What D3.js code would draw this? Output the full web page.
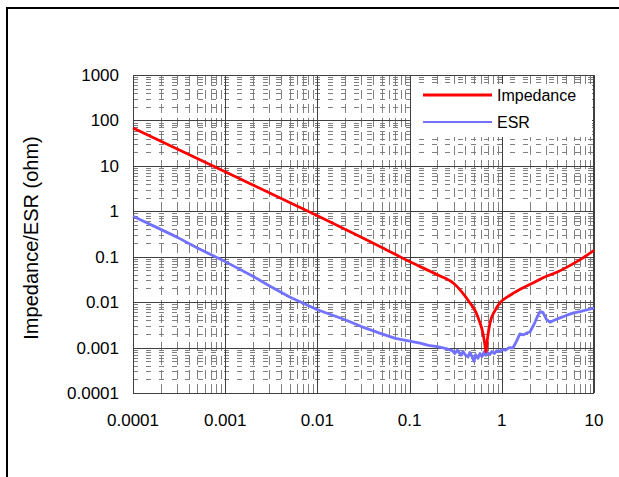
<!DOCTYPE html>
<html>
<head>
<meta charset="utf-8">
<script src="https://cdn.jsdelivr.net/npm/d3@7"></script>
<style>
  body { margin: 0; background: #fff; }
  svg { display: block; font-family: Arial, "Liberation Sans", sans-serif; }
</style>
</head>
<body>
<svg id="chart" width="619" height="477"></svg>
<script>
// tick labels
var xTickLabels = ['0.0001', '0.001', '0.01', '0.1', '1', '10'];
var yTickLabels = ['0.0001', '0.001', '0.01', '0.1', '1', '10', '100', '1000'];

// Impedance curve
var impFreq = [0.0001, 0.001, 0.01, 0.05, 0.1, 0.2, 0.3, 0.45, 0.52, 0.58, 0.62, 0.65, 0.675, 0.70, 0.745, 0.85, 0.955, 1.23, 1.6, 2.18, 2.8, 4, 5.1, 7, 10];
var impValue = [68, 7.4, 0.8, 0.16, 0.078, 0.04, 0.026, 0.0097, 0.0062, 0.0035, 0.0022, 0.0013, 0.0008, 0.0016, 0.0035, 0.0067, 0.0096, 0.0142, 0.0195, 0.0264, 0.0345, 0.046, 0.059, 0.085, 0.138];

// ESR curve (noisy part typed point by point)
var esrFreq = [0.0001, 0.0002, 0.0003, 0.0005, 0.001, 0.002, 0.003, 0.005, 0.01, 0.02, 0.03, 0.05, 0.07, 0.1, 0.13, 0.16, 0.2, 0.23, 0.26, 0.29, 0.31, 0.33, 0.36, 0.38, 0.40, 0.43, 0.45, 0.47, 0.50, 0.52, 0.55, 0.58, 0.61, 0.64, 0.67, 0.70, 0.74, 0.78, 0.83, 0.88, 0.95, 1.0, 1.1, 1.2, 1.32, 1.45, 1.57, 1.72, 1.87, 2.02, 2.15, 2.29, 2.45, 2.6, 2.8, 3.05, 3.33, 3.7, 4.28, 5, 6, 7.05, 8.5, 10];
var esrValue = [0.78, 0.40, 0.27, 0.155, 0.078, 0.037, 0.023, 0.013, 0.0068, 0.0041, 0.0029, 0.0020, 0.0016, 0.00138, 0.00125, 0.00112, 0.00105, 0.00098, 0.00092, 0.00086, 0.00074, 0.00088, 0.00068, 0.00082, 0.00070, 0.00062, 0.00078, 0.00066, 0.00050, 0.00070, 0.00058, 0.00074, 0.00063, 0.00080, 0.00068, 0.00078, 0.00070, 0.00082, 0.00074, 0.00085, 0.00082, 0.00090, 0.00088, 0.00100, 0.00098, 0.0014, 0.0020, 0.0019, 0.0021, 0.0022, 0.0028, 0.0036, 0.0050, 0.0062, 0.0059, 0.0042, 0.0036, 0.0040, 0.0045, 0.0051, 0.0058, 0.0062, 0.0068, 0.0075];

var legendNames = ['Impedance', 'ESR'];
var lineColors = ['#ff0000', '#7272ff'];

var svg = d3.select('#chart');
var plotLeft = 133, plotRight = 594, plotTop = 75, plotBottom = 393;

var x = d3.scaleLog().domain([0.0001, 10]).range([plotLeft, plotRight]);
var y = d3.scaleLog().domain([0.0001, 1000]).range([plotBottom, plotTop]);

// outer frame of the page
svg.append('rect').attr('x', 6).attr('y', 7).attr('width', 613).attr('height', 2).attr('fill', '#000');
svg.append('rect').attr('x', 6).attr('y', 7).attr('width', 2).attr('height', 470).attr('fill', '#000');

function isMajor(v) {
    var l = Math.log10(v);
    return Math.abs(l - Math.round(l)) < 1e-6;
}

var grid = svg.append('g');
// minor grid, dashed
grid.selectAll('.hminor')
    .data(y.ticks().filter(function (d) { return !isMajor(d); }))
    .enter().append('line')
    .attr('x1', plotLeft).attr('x2', plotRight)
    .attr('y1', function (d) { return Math.round(y(d)) + 0.5; })
    .attr('y2', function (d) { return Math.round(y(d)) + 0.5; })
    .attr('stroke', '#808080').attr('stroke-width', 1)
    .attr('stroke-dasharray', '5,8');
grid.selectAll('.vminor')
    .data(x.ticks().filter(function (d) { return !isMajor(d); }))
    .enter().append('line')
    .attr('y1', plotBottom).attr('y2', plotTop)
    .attr('x1', function (d) { return Math.round(x(d)) + 0.5; })
    .attr('x2', function (d) { return Math.round(x(d)) + 0.5; })
    .attr('stroke', '#808080').attr('stroke-width', 1)
    .attr('stroke-dasharray', '9,5');
// major grid
grid.selectAll('.hmajor')
    .data(yTickLabels.map(Number))
    .enter().append('line')
    .attr('x1', plotLeft).attr('x2', plotRight)
    .attr('y1', function (d) { return Math.round(y(d)) + 0.5; })
    .attr('y2', function (d) { return Math.round(y(d)) + 0.5; })
    .attr('stroke', '#404040').attr('stroke-width', 1);
grid.selectAll('.vmajor')
    .data(xTickLabels.map(Number))
    .enter().append('line')
    .attr('y1', plotBottom).attr('y2', plotTop)
    .attr('x1', function (d) { return Math.round(x(d)) + 0.5; })
    .attr('x2', function (d) { return Math.round(x(d)) + 0.5; })
    .attr('stroke', '#404040').attr('stroke-width', 1);

// plot border
svg.append('rect')
    .attr('x', plotLeft + 0.5).attr('y', plotTop + 0.5)
    .attr('width', plotRight - plotLeft - 1).attr('height', plotBottom - plotTop)
    .attr('fill', 'none').attr('stroke', '#404040').attr('stroke-width', 1);

// axis labels
svg.append('g').selectAll('text')
    .data(yTickLabels)
    .enter().append('text')
    .attr('x', 119)
    .attr('y', function (d) { return y(+d); })
    .attr('dy', '0.35em')
    .attr('text-anchor', 'end')
    .attr('font-size', 17)
    .text(function (d) { return d; });

svg.append('g').selectAll('text')
    .data(xTickLabels)
    .enter().append('text')
    .attr('x', function (d) { return x(+d); })
    .attr('y', 426)
    .attr('text-anchor', 'middle')
    .attr('font-size', 17)
    .text(function (d) { return d; });

svg.append('text')
    .attr('transform', 'translate(38,238) rotate(-90)')
    .attr('text-anchor', 'middle')
    .attr('font-size', 20)
    .text('Impedance/ESR (ohm)');

// series
var line = d3.line()
    .x(function (d) { return x(d[0]); })
    .y(function (d) { return y(d[1]); })
    .curve(d3.curveMonotoneX);

var impData = impFreq.map(function (f, i) { return [f, impValue[i]]; });
var esrData = esrFreq.map(function (f, i) { return [f, esrValue[i]]; });

svg.append('path').datum(esrData)
    .attr('d', d3.line().x(function (d) { return x(d[0]); }).y(function (d) { return y(d[1]); }))
    .attr('fill', 'none').attr('stroke', lineColors[1]).attr('stroke-width', 2.8)
    .attr('stroke-linejoin', 'round');

svg.append('path').datum(impData)
    .attr('d', line)
    .attr('fill', 'none').attr('stroke', lineColors[0]).attr('stroke-width', 2.8)
    .attr('stroke-linejoin', 'round');

// legend
var legend = svg.append('g');
legend.append('rect')
    .attr('x', 411).attr('y', 84).attr('width', 181).attr('height', 53)
    .attr('fill', '#fff');
var items = legend.selectAll('g')
    .data(legendNames)
    .enter().append('g')
    .attr('transform', function (d, i) { return 'translate(0,' + (95 + i * 27) + ')'; });
items.append('line')
    .attr('x1', 423).attr('x2', 492)
    .attr('stroke', function (d, i) { return lineColors[i]; })
    .attr('stroke-width', function (d, i) { return i === 0 ? 2.8 : 2; });
items.append('text')
    .attr('x', 497).attr('dy', '0.35em')
    .attr('font-size', 16)
    .text(function (d) { return d; });
</script>
</body>
</html>
